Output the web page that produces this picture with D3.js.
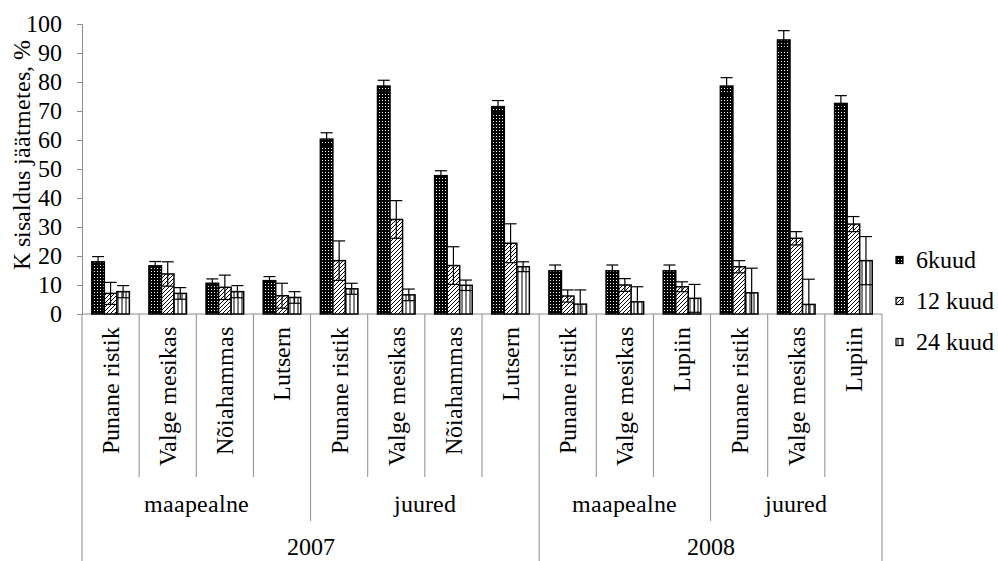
<!DOCTYPE html>
<html>
<head>
<meta charset="utf-8">
<script src="https://cdn.jsdelivr.net/npm/d3@7"></script>
<style>
  @font-face {
    font-family: "ChartSerif";
    src: local("Liberation Serif"), local("LiberationSerif"), local("LiberationSerif-Regular"),
         local("Times New Roman"), local("DejaVu Serif"), local("DejaVuSerif");
  }
  body { margin: 0; background: #fff; }
</style>
</head>
<body>
<div id="chart"></div>
<script>
// K sisaldus jaatmetes - grouped bars with error bars

var plants = ["Punane ristik", "Valge mesikas", "Nõiahammas", "Lutsern",
              "Punane ristik", "Valge mesikas", "Nõiahammas", "Lutsern",
              "Punane ristik", "Valge mesikas", "Lupiin",
              "Punane ristik", "Valge mesikas", "Lupiin"];
var parts = ["maapealne", "juured", "maapealne", "juured"];
var partSizes = [4, 4, 3, 3];
var years = ["2007", "2008"];
var yearSizes = [8, 6];

var seriesNames = ["6kuud", "12 kuud", "24 kuud"];
var k6   = [18.0, 16.6, 10.6, 11.5, 60.3, 78.6, 47.7, 71.5, 14.9, 14.9, 14.9, 78.6, 94.5, 72.6];
var err6 = [1.8, 1.5, 1.5, 1.4, 2.2, 2.0, 1.7, 2.1, 2.0, 2.0, 2.0, 2.9, 3.2, 2.7];
var k12   = [7.1, 13.8, 9.2, 6.3, 18.4, 32.6, 16.7, 24.4, 6.2, 10.0, 9.4, 16.3, 26.1, 31.0];
var err12 = [3.8, 4.2, 4.2, 4.3, 6.8, 6.5, 6.5, 6.7, 2.1, 2.2, 1.7, 2.1, 2.3, 2.6];
var k24   = [7.7, 7.1, 7.7, 5.7, 8.7, 6.6, 9.9, 16.3, 3.4, 4.2, 5.4, 7.3, 3.3, 18.4];
var err24 = [2.1, 2.0, 2.1, 2.0, 1.9, 2.0, 1.8, 1.7, 4.9, 5.2, 4.8, 8.5, 8.7, 8.3];
var yTicks = [0, 10, 20, 30, 40, 50, 60, 70, 80, 90, 100];

var width = 998, height = 561;
var plotLeft = 82, plotRight = 882, plotBottom = 314, plotTop = 24;
var fontSize = 24;
var serif = "ChartSerif, Liberation Serif, Times New Roman, serif";
var gray = "#8c8c8c";

var svg = d3.select("#chart").append("svg")
    .attr("width", width)
    .attr("height", height)
    .attr("font-family", serif);

function label(sel) {
    return sel.attr("font-family", serif)
        .attr("font-size", fontSize)
        .attr("fill", "#000");
}

// fill patterns
var defs = svg.append("defs");

var p0 = defs.append("pattern").attr("id", "pat0")
    .attr("patternUnits", "userSpaceOnUse").attr("width", 3).attr("height", 3);
p0.append("rect").attr("width", 3).attr("height", 3).attr("fill", "#000");
p0.append("rect").attr("x", 1).attr("y", 1).attr("width", 1).attr("height", 1).attr("fill", "#fff");

var p1 = defs.append("pattern").attr("id", "pat1")
    .attr("patternUnits", "userSpaceOnUse").attr("width", 4).attr("height", 4);
p1.append("rect").attr("width", 4).attr("height", 4).attr("fill", "#fff");
p1.append("path").attr("d", "M-1,1 L1,-1 M0,4 L4,0 M3,5 L5,3")
    .attr("stroke", "#000").attr("stroke-width", 1);

var p2 = defs.append("pattern").attr("id", "pat2")
    .attr("patternUnits", "userSpaceOnUse").attr("width", 4).attr("height", 4);
p2.append("rect").attr("width", 4).attr("height", 4).attr("fill", "#fff");
p2.append("path").attr("d", "M2,0 L2,4").attr("stroke", "#000").attr("stroke-width", 1);

var fills = ["url(#pat0)", "url(#pat1)", "url(#pat2)"];
var values = [k6, k12, k24];
var errors = [err6, err12, err24];

// scales
var x0 = d3.scaleBand()
    .domain(d3.range(plants.length))
    .range([plotLeft, plotRight]);

var x1 = d3.scaleBand()
    .domain(d3.range(seriesNames.length))
    .range([0, x0.bandwidth()])
    .paddingOuter(0.78);

var y = d3.scaleLinear()
    .domain([0, 100])
    .range([plotBottom, plotTop]);

// y axis
var yAxis = svg.append("g")
    .attr("transform", "translate(" + plotLeft + ",0)")
    .call(d3.axisLeft(y).tickValues(yTicks).tickSize(5).tickPadding(15));
yAxis.attr("font-family", serif).attr("font-size", fontSize);
yAxis.select(".domain").attr("stroke", gray);
yAxis.selectAll(".tick line").attr("stroke", gray);
label(yAxis.selectAll(".tick text"));

label(svg.append("text"))
    .attr("transform", "translate(22,155) rotate(-90)")
    .attr("text-anchor", "middle")
    .attr("dy", "0.35em")
    .text("K sisaldus jäätmetes, %");

// x axis line
svg.append("line")
    .attr("x1", plotLeft).attr("x2", plotRight)
    .attr("y1", plotBottom).attr("y2", plotBottom)
    .attr("stroke", gray);

// separators: plant level, part level, year level
var partEnds = d3.cumsum(partSizes);
var yearEnds = d3.cumsum(yearSizes);

d3.range(plants.length + 1).forEach(function(i) {
    var xx = i < plants.length ? x0(i) : plotRight;
    var yEnd = 477;
    if (partEnds.indexOf(i) >= 0) yEnd = 521;
    if (i === 0 || yearEnds.indexOf(i) >= 0) yEnd = height;
    svg.append("line")
        .attr("x1", xx).attr("x2", xx)
        .attr("y1", plotBottom).attr("y2", yEnd)
        .attr("stroke", gray).attr("stroke-width", 1);
});

// plant labels
label(svg.append("g").selectAll("text")
    .data(plants)
    .join("text"))
    .attr("transform", function(d, i) {
        return "translate(" + (x0(i) + x0.bandwidth() / 2) + ",327) rotate(-90)";
    })
    .attr("text-anchor", "end")
    .attr("dy", "0.35em")
    .text(function(d) { return d; });

function spanEdge(i) {
    return i < plants.length ? x0(i) : plotRight;
}

// part labels
var start = 0;
parts.forEach(function(p, k) {
    var a = spanEdge(start), b = spanEdge(start + partSizes[k]);
    label(svg.append("text"))
        .attr("x", (a + b) / 2).attr("y", 512)
        .attr("text-anchor", "middle")
        .text(p);
    start += partSizes[k];
});

// year labels
start = 0;
years.forEach(function(yr, k) {
    var a = spanEdge(start), b = spanEdge(start + yearSizes[k]);
    label(svg.append("text"))
        .attr("x", (a + b) / 2).attr("y", 555)
        .attr("text-anchor", "middle")
        .text(yr);
    start += yearSizes[k];
});

// bars
seriesNames.forEach(function(s, si) {
    svg.append("g").selectAll("rect")
        .data(values[si])
        .join("rect")
        .attr("x", function(d, i) { return x0(i) + x1(si); })
        .attr("y", function(d) { return y(d); })
        .attr("width", x1.bandwidth())
        .attr("height", function(d) { return y(0) - y(d); })
        .attr("fill", fills[si])
        .attr("stroke", "#000")
        .attr("stroke-width", 1.5);
});

// error bars
var capHalf = 6;
seriesNames.forEach(function(s, si) {
    var g = svg.append("g").attr("stroke", "#000").attr("stroke-width", 1.2);
    values[si].forEach(function(v, i) {
        var cx = x0(i) + x1(si) + x1.bandwidth() / 2;
        var e = errors[si][i];
        var hi = y(v + e), lo = y(Math.max(0, v - e));
        g.append("line").attr("x1", cx).attr("x2", cx).attr("y1", hi).attr("y2", lo);
        g.append("line").attr("x1", cx - capHalf).attr("x2", cx + capHalf).attr("y1", hi).attr("y2", hi);
        if (v - e > 0) {
            g.append("line").attr("x1", cx - capHalf).attr("x2", cx + capHalf).attr("y1", lo).attr("y2", lo);
        }
    });
});

// legend
var legendY = [260, 301, 342];
seriesNames.forEach(function(s, si) {
    svg.append("rect")
        .attr("x", 896).attr("y", legendY[si] - 3.5)
        .attr("width", 7).attr("height", 7)
        .attr("fill", fills[si])
        .attr("stroke", "#000").attr("stroke-width", 1.2);
    label(svg.append("text"))
        .attr("x", 916).attr("y", legendY[si])
        .attr("dy", "0.35em")
        .text(s);
});
</script>
</body>
</html>
